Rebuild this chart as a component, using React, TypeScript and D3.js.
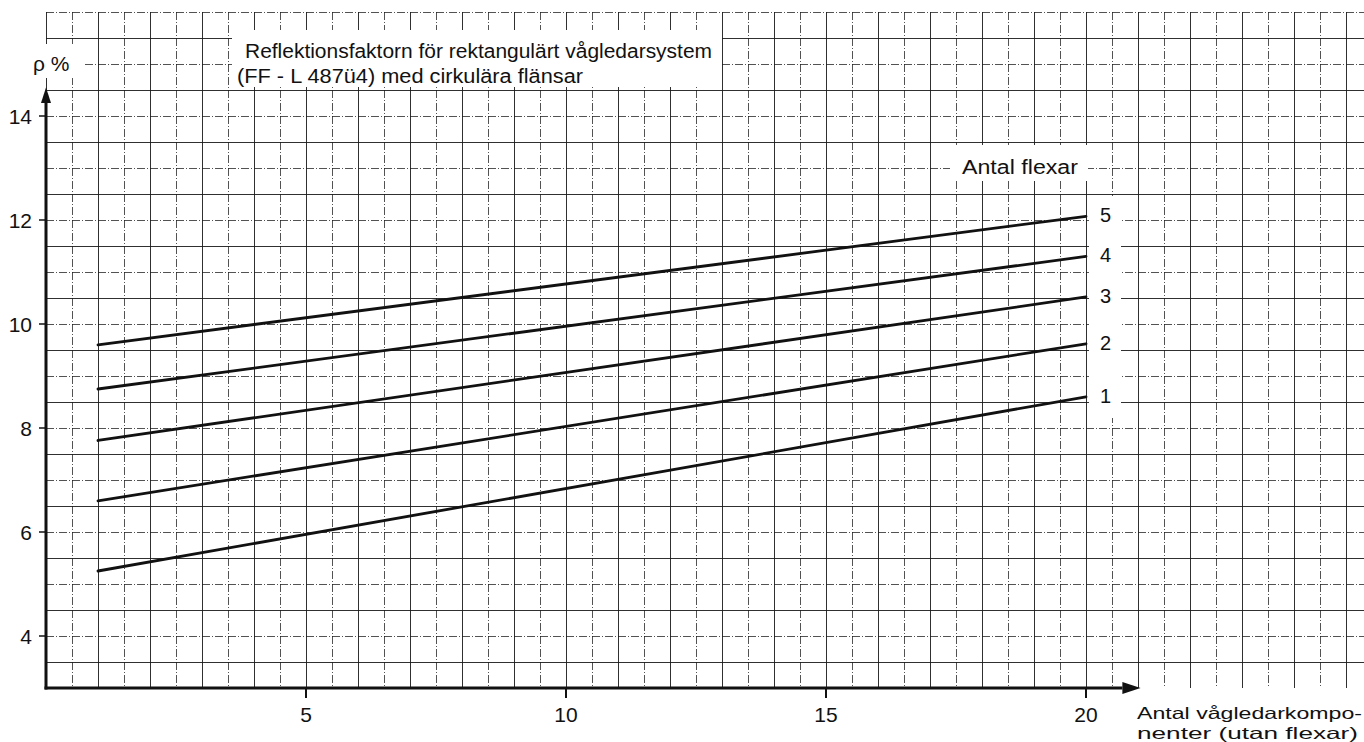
import React from 'react';
import * as d3 from 'd3';

// Antal vågledarkomponenter (x) where the lines start and end
const components = [1, 20];

// Reflektionsfaktor in % for 1..5 flexar
const flex1 = [5.25, 8.6];
const flex2 = [6.6, 9.62];
const flex3 = [7.76, 10.52];
const flex4 = [8.75, 11.3];
const flex5 = [9.6, 12.07];

const flexSeries = [flex1, flex2, flex3, flex4, flex5];
const flexLabels = ['1', '2', '3', '4', '5'];

const yTicks = [4, 6, 8, 10, 12, 14];
const xTicks = [5, 10, 15, 20];

const titleLines = [
  'Reflektionsfaktorn för rektangulärt vågledarsystem',
  '(FF - L 487ü4) med cirkulära flänsar',
];
const xLabelLines = ['Antal vågledarkompo-', 'nenter  (utan flexar)'];

const W = 1364;
const H = 742;

const App: React.FC = () => {
  const x = d3.scaleLinear().domain([0, 25]).range([46, 1346]);
  const y = d3.scaleLinear().domain([3, 16]).range([688, 12]);

  const line = d3
    .line<number>()
    .x((d, i) => x(components[i]))
    .y((d) => y(d));

  const vGrid = d3.range(0, 26.5, 0.5);
  const hGrid = d3.range(3.5, 16.01, 0.5);
  const font = "'Liberation Sans', Arial, sans-serif";
  const ink = '#111';

  return (
    <svg
      width={W}
      height={H}
      style={{ position: 'absolute', left: 0, top: 0, background: '#fff' }}
      fontFamily={font}
    >
      <rect width={W} height={H} fill="#fff" />

      {/* graph paper */}
      <g stroke="#1a1a1a" strokeWidth={1} fill="none" shapeRendering="crispEdges">
        {vGrid.map((v) => (
          <line
            key={'v' + v}
            x1={x(v) + 0.5}
            x2={x(v) + 0.5}
            y1={y(16)}
            y2={y(3)}
            strokeDasharray={v % 1 === 0 ? undefined : '8,2,1,2'}
            opacity={v % 1 === 0 ? 0.9 : 0.75}
          />
        ))}
        {hGrid.map((v) => (
          <line
            key={'h' + v}
            x1={x(0)}
            x2={W}
            y1={y(v) + 0.5}
            y2={y(v) + 0.5}
            strokeDasharray={v % 1 === 0 ? '8,2,1,2' : undefined}
            opacity={v % 1 === 0 ? 0.75 : 0.9}
          />
        ))}
      </g>

      {/* white patches behind the labels */}
      <g fill="#fff">
        <rect x={232} y={30} width={490} height={57} />
        <rect x={26} y={44} width={58} height={34} />
        <rect x={950} y={145} width={138} height={36} />
        <rect x={1089} y={196} width={32} height={222} />
      </g>

      {/* data lines */}
      <g fill="none" stroke={ink} strokeWidth={2.8} strokeLinecap="round">
        {flexSeries.map((s, i) => (
          <path key={i} d={line(s) || ''} />
        ))}
      </g>

      {/* axes */}
      <g stroke={ink} strokeWidth={3} fill="none">
        <line x1={x(0)} x2={x(0)} y1={y(3) + 1.5} y2={y(14.3)} />
        <line x1={x(0) - 1.5} x2={x(20.7)} y1={y(3)} y2={y(3)} />
      </g>
      <path
        d={`M${x(0)},${y(14.55)} L${x(0) - 5},${y(14.25)} L${x(0) + 5},${y(14.25)} Z`}
        fill={ink}
      />
      <path
        d={`M${x(21.05)},${y(3)} L${x(20.7)},${y(3) - 6} L${x(20.7)},${y(3) + 6} Z`}
        fill={ink}
      />

      {/* ticks */}
      <g stroke={ink} strokeWidth={1.5}>
        {yTicks.map((t) => (
          <line key={t} x1={x(0) - 7} x2={x(0)} y1={y(t)} y2={y(t)} />
        ))}
        {xTicks.map((t) => (
          <line key={t} x1={x(t)} x2={x(t)} y1={y(3)} y2={y(3) + 10} strokeWidth={2} />
        ))}
      </g>

      <g fill={ink} fontSize={21}>
        {yTicks.map((t) => (
          <text key={t} x={32} y={y(t) + 8} textAnchor="end">
            {t}
          </text>
        ))}
        {xTicks.map((t) => (
          <text key={t} x={x(t)} y={722} textAnchor="middle">
            {t}
          </text>
        ))}
      </g>

      {/* axis titles */}
      <text x={33} y={71} fontSize={21} fill={ink}>
        ρ %
      </text>
      <g fontSize={20} fill={ink}>
        <text x={245} y={58} textLength={467} lengthAdjust="spacingAndGlyphs">
          {titleLines[0]}
        </text>
        <text x={237} y={83} textLength={346} lengthAdjust="spacingAndGlyphs">
          {titleLines[1]}
        </text>
        <text x={962} y={174} textLength={116} lengthAdjust="spacingAndGlyphs">
          Antal flexar
        </text>
      </g>

      <g fontSize={20} fill={ink}>
        {flexSeries.map((s, i) => (
          <text key={i} x={1100} y={y(s[1]) + 6}>
            {flexLabels[i]}
          </text>
        ))}
      </g>

      <g fontSize={16.5} fill={ink}>
        <text x={1137} y={719} textLength={225} lengthAdjust="spacingAndGlyphs">
          {xLabelLines[0]}
        </text>
        <text x={1137} y={739} textLength={221} lengthAdjust="spacingAndGlyphs">
          {xLabelLines[1]}
        </text>
      </g>
    </svg>
  );
};

export default App;
